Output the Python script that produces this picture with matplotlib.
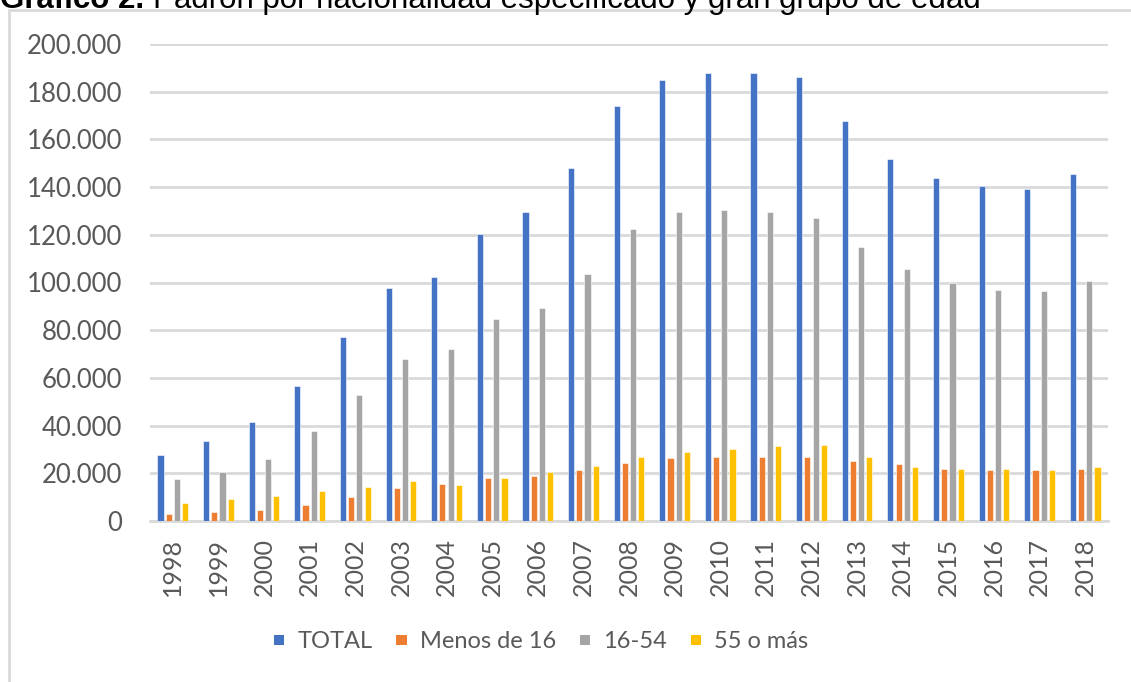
import matplotlib.pyplot as plt
import numpy as np
from matplotlib.patches import Patch, Rectangle
from matplotlib.ticker import FuncFormatter

# Datos del gráfico
anos = [str(a) for a in range(1998, 2019)]
total = [27500, 33400, 41500, 56700, 77100, 97700, 102200, 120500, 129500, 148000,
         173900, 184800, 187800, 187800, 186000, 167600, 151800, 143700, 140500, 139100, 145500]
menos_16 = [2900, 3600, 4700, 6700, 9900, 13700, 15600, 18200, 18700, 21200,
            24500, 26300, 27000, 27000, 27000, 25000, 23800, 21900, 21200, 21200, 21900]
de_16_54 = [17500, 20500, 25900, 37700, 53000, 68000, 72000, 84500, 89500, 103500,
            122500, 129500, 130500, 129500, 127000, 115000, 105500, 100000, 97000, 96500, 100500]
mas_55 = [7400, 9200, 10500, 12400, 14300, 16800, 15000, 18200, 20500, 23200,
          27000, 28900, 30200, 31400, 32000, 27000, 22500, 21900, 21900, 21200, 22500]

series = [total, menos_16, de_16_54, mas_55]
etiquetas = ['TOTAL', 'Menos de 16', '16-54', '55 o más']
colores = ['#4472C4', '#ED7D31', '#A5A5A5', '#FFC000']

W, H = 1131, 682
fig = plt.figure(figsize=(W / 100, H / 100), dpi=100)
fig.patch.set_facecolor('white')

# Marco del gráfico (cortado a la derecha y abajo)
fig.add_artist(Rectangle((9 / W, -0.1), 1.2, 1 - 10 / H + 0.1, transform=fig.transFigure,
                         fill=False, edgecolor='#D9D9D9', linewidth=2))

ax = fig.add_axes([150 / W, 1 - 521 / H, (1108 - 150) / W, (521 - 44) / H])
x = np.arange(len(anos))
paso = 0.18
ancho = 0.135
for i, (datos, etiqueta, color) in enumerate(zip(series, etiquetas, colores)):
    ax.bar(x + (i - 1.5) * paso, datos, width=ancho, color=color, label=etiqueta,
           edgecolor='white', linewidth=0.4, zorder=3)

ax.set_xlim(-0.5, len(anos) - 0.5)
ax.set_ylim(0, 200000)
ax.set_yticks(range(0, 200001, 20000))
ax.yaxis.set_major_formatter(FuncFormatter(lambda v, p: f'{int(v):,}'.replace(',', '.')))
ax.set_xticks(x)
ax.set_xticklabels(anos, rotation=90)
ax.grid(axis='y', color='#D9D9D9', linewidth=2, zorder=0)
for lado in ['top', 'right', 'left']:
    ax.spines[lado].set_visible(False)
ax.spines['bottom'].set_color('#D9D9D9')
ax.spines['bottom'].set_linewidth(2)
ax.tick_params(axis='y', length=0, pad=20, labelsize=18.5, labelcolor='#595959')
ax.tick_params(axis='x', length=0, pad=12, labelsize=18, labelcolor='#595959')
for t in ax.get_xticklabels() + ax.get_yticklabels():
    t.set_fontfamily('Lato')

# Leyenda
handles = [Patch(facecolor=c, edgecolor='none') for c in colores]
fig.legend(handles, etiquetas, loc='center', bbox_to_anchor=(541 / W, 1 - 642 / H), ncol=4,
           frameon=False, handlelength=0.45, handleheight=0.3, handletextpad=0.55,
           columnspacing=1.0, prop={'family': 'Lato', 'size': 17}, labelcolor='#595959')

# Título (cortado por arriba, como en el original)
t1 = fig.text(0.0, 1 - 8 / H, 'Gráfico 2. ', fontsize=22.5, fontweight='bold',
              family='Liberation Sans', va='baseline')
fig.canvas.draw()
bb = t1.get_window_extent(fig.canvas.get_renderer())
fig.text(bb.x1 / W, 1 - 8 / H, 'Padrón por nacionalidad especificado y gran grupo de edad',
         fontsize=22.5, family='Liberation Sans', va='baseline')

fig.savefig('out.png', dpi=100)
